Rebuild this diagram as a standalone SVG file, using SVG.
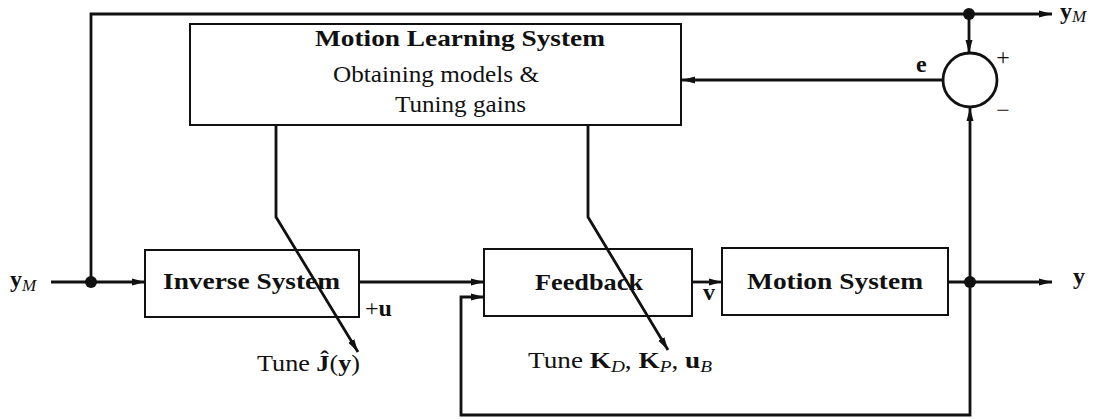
<svg xmlns="http://www.w3.org/2000/svg" width="1103" height="419" viewBox="0 0 1103 419">
<style>
.box{fill:none;stroke:#111;stroke-width:2}
.ln{fill:none;stroke:#111;stroke-width:2.8;stroke-linejoin:miter}
.t{font-family:"Liberation Serif","Times New Roman",serif;font-size:24px;fill:#111}
.b{font-weight:bold}
.i{font-style:italic}
</style>
<defs>
<marker id="ah" markerUnits="userSpaceOnUse" markerWidth="14" markerHeight="8" refX="13" refY="4" orient="auto">
<path d="M0,0.5 L13,4 L0,7.5 z" fill="#111"/>
</marker>
</defs>
<rect width="1103" height="419" fill="#fff"/>

<g id="learning">
<rect class="box" x="190" y="24" width="491" height="101"/>
<text class="t b" x="315" y="46" textLength="290" lengthAdjust="spacingAndGlyphs">Motion Learning System</text>
<text class="t" x="333" y="82" textLength="206" lengthAdjust="spacingAndGlyphs">Obtaining models &amp;</text>
<text class="t" x="395" y="112" textLength="131" lengthAdjust="spacingAndGlyphs">Tuning gains</text>
</g>

<g id="sum">
<circle cx="970" cy="80" r="27" fill="none" stroke="#111" stroke-width="2.8"/>
<text class="t" x="1003" y="65" text-anchor="middle" font-size="34">+</text>
<text class="t" x="1003" y="118" text-anchor="middle" font-size="34">−</text>
</g>

<g id="inverse">
<rect class="box" x="145" y="250" width="214" height="67"/>
<text class="t b" x="163" y="289" textLength="177" lengthAdjust="spacingAndGlyphs">Inverse System</text>
</g>

<g id="feedback">
<rect class="box" x="484" y="249" width="208" height="67"/>
<text class="t b" x="535" y="290" textLength="108" lengthAdjust="spacingAndGlyphs">Feedback</text>
</g>

<g id="motion">
<rect class="box" x="722" y="248" width="226" height="67"/>
<text class="t b" x="747" y="289" textLength="176" lengthAdjust="spacingAndGlyphs">Motion System</text>
</g>

<g id="connectors">
<path class="ln" d="M91,282 V14 H1052" marker-end="url(#ah)"/>
<path class="ln" d="M969,14 V53" marker-end="url(#ah)"/>
<path class="ln" d="M943,80 H682" marker-end="url(#ah)"/>
<path class="ln" d="M970,282 V108" marker-end="url(#ah)"/>
<path class="ln" d="M51,282 H145" marker-end="url(#ah)"/>
<path class="ln" d="M359,282 H484" marker-end="url(#ah)"/>
<path class="ln" d="M692,282 H722" marker-end="url(#ah)"/>
<path class="ln" d="M948,282 H1052" marker-end="url(#ah)"/>
<path class="ln" d="M970,282 V415 H461 V297 H484" marker-end="url(#ah)"/>
<path class="ln" d="M276,125 V217 L358,352" marker-end="url(#ah)"/>
<path class="ln" d="M588,125 V217 L668,350" marker-end="url(#ah)"/>
<circle cx="91" cy="282" r="6" fill="#111"/>
<circle cx="969" cy="14" r="6" fill="#111"/>
<circle cx="970" cy="282" r="6" fill="#111"/>
</g>

<g id="labels">
<text class="t" x="10" y="287"><tspan class="b">y</tspan><tspan class="i" font-size="17" dy="4">M</tspan></text>
<text class="t" x="1060" y="19"><tspan class="b">y</tspan><tspan class="i" font-size="17" dy="3">M</tspan></text>
<text class="t b" x="1073" y="284">y</text>
<text class="t b" x="916" y="72">e</text>
<text class="t" x="365" y="316"><tspan>+</tspan><tspan class="b">u</tspan></text>
<text class="t b" x="703" y="300">v</text>
<text class="t" x="257" y="371" textLength="103" lengthAdjust="spacingAndGlyphs">Tune <tspan class="b">Ĵ</tspan>(<tspan class="b">y</tspan>)</text>
<text class="t" x="528" y="368" textLength="184" lengthAdjust="spacingAndGlyphs">Tune <tspan class="b">K</tspan><tspan class="i" font-size="17" dy="4">D</tspan><tspan dy="-4">, </tspan><tspan class="b">K</tspan><tspan class="i" font-size="17" dy="4">P</tspan><tspan dy="-4">, </tspan><tspan class="b">u</tspan><tspan class="i" font-size="17" dy="4">B</tspan></text>
</g>
</svg>
